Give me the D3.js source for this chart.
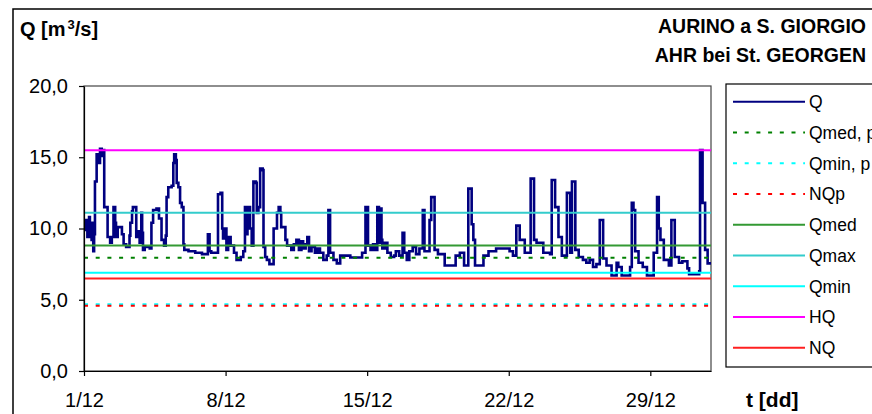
<!DOCTYPE html>
<html>
<head>
<meta charset="utf-8">
<script src="https://cdn.jsdelivr.net/npm/d3@7"></script>
<style>
  body { margin: 0; background: #fff; }
  text { font-family: Arial, "Liberation Sans", sans-serif; }
</style>
</head>
<body>
<div id="chart"></div>
<script>
// hourly discharge, December (hour from 1/12 00:00, value in m3/s), step changes
const qHours = [0, 2, 4, 6, 7, 9, 10, 11, 12, 13, 15, 18, 19, 21, 23, 24, 28, 31, 33, 35, 37, 38, 40, 45, 47, 50, 54, 55, 57, 58,
  62, 64, 66, 68, 69, 70, 72, 78, 80, 82, 86, 89, 92, 95, 97, 98, 100, 104, 106, 107, 109, 110, 112, 114, 116, 118, 119, 124, 132, 140,
  147, 149, 151, 159, 162, 164, 165, 167, 169, 171, 174, 178, 181, 186, 189, 191, 193, 194, 197, 199, 201, 204, 205, 207, 209, 212, 213, 215, 217, 220,
  225, 229, 231, 233, 234, 239, 241, 246, 249, 252, 255, 258, 260, 263, 265, 267, 270, 274, 277, 280, 284, 288, 290, 292, 296, 300, 304, 316, 330, 334,
  337, 340, 343, 346, 348, 350, 351, 353, 354, 357, 360, 364, 368, 370, 374, 378, 380, 383, 386, 390, 394, 398, 402, 404, 410, 412, 416, 420, 428, 441,
  446, 451, 456, 460, 462, 464, 474, 480, 489, 505, 509, 513, 517, 523, 530, 534, 537, 545, 553, 555, 559, 563, 567, 573, 577, 579, 583, 587, 592, 596,
  600, 604, 608, 612, 616, 620, 626, 632, 634, 638, 648, 650, 652, 654, 658, 663, 668, 676, 680, 682, 684, 688, 694, 697, 701, 706, 710, 716, 718, 730,
  731, 734, 737, 740, 744];
const qValues = [9.9, 10.6, 9.4, 10.8, 9.8, 9.2, 10.4, 8.4, 9.6, 13.3, 15.2, 14.6, 15.6, 15.1, 15.5, 11.5, 9.4, 9.0, 9.4, 11.5, 10.4, 9.4, 10.1, 9.6, 8.9, 8.7, 9.5, 10.4, 11.2, 11.5,
  9.4, 9.8, 9.0, 11.1, 9.7, 8.5, 8.7, 8.6, 10.4, 11.3, 11.4, 10.7, 9.2, 8.8, 9.5, 12.2, 12.9, 13.0, 14.6, 15.2, 14.8, 13.2, 12.9, 11.8, 11.5, 8.9, 8.5, 8.4, 8.3, 8.2,
  9.6, 8.4, 8.3, 12.4, 12.5, 10.0, 9.3, 10.0, 8.5, 9.4, 8.8, 8.3, 7.8, 8.0, 8.4, 11.5, 9.6, 11.5, 10.0, 8.8, 13.3, 13.2, 11.1, 11.5, 14.2, 14.1, 8.7, 8.0, 7.8, 7.5,
  10.0, 11.1, 11.5, 11.1, 10.1, 9.2, 8.8, 8.5, 8.9, 9.2, 8.5, 9.1, 8.6, 8.9, 9.4, 8.4, 8.7, 8.3, 8.6, 8.3, 7.8, 8.1, 11.3, 8.3, 7.8, 7.55, 8.1, 7.97, 8.3, 11.5,
  8.8, 8.5, 8.9, 8.5, 11.5, 9.0, 11.4, 9.2, 8.6, 9.0, 8.3, 8.0, 8.1, 8.4, 8.1, 9.7, 8.3, 7.8, 8.4, 8.7, 8.2, 8.6, 11.3, 8.4, 10.6, 12.2, 8.5, 8.2, 7.4, 8.1,
  8.3, 7.4, 12.8, 10.3, 9.2, 7.4, 8.1, 8.4, 8.6, 8.4, 8.1, 10.2, 9.2, 8.3, 13.5, 9.2, 9.0, 8.3, 8.2, 13.4, 11.5, 9.4, 8.1, 12.5, 8.3, 13.3, 8.5, 8.0, 7.8, 7.6,
  7.8, 7.3, 7.5, 10.6, 7.9, 7.4, 6.7, 7.6, 7.3, 6.7, 7.3, 11.8, 11.3, 8.4, 7.6, 7.3, 6.7, 8.3, 12.2, 10.0, 9.2, 7.8, 7.4, 10.6, 8.0, 7.6, 7.7, 7.2, 6.8, 7.0,
  15.5, 11.8, 8.5, 7.55, 7.55];

// reference levels
const refNames = ["Qmed, p", "Qmin, p", "NQp", "Qmed", "Qmax", "Qmin", "HQ", "NQ"];
const refValues = [7.95, 4.68, 4.58, 8.8, 11.1, 6.9, 15.5, 6.5];
const refColors = ["#008000", "#00ffff", "#ff0000", "#339933", "#33cccc", "#00ffff", "#ff00ff", "#ff2020"];
const refDashed = [true, true, true, false, false, false, false, false];

const yTicks = [0, 5, 10, 15, 20];
const xTickHours = [0, 168, 336, 504, 672];
const xTickLabels = ["1/12", "8/12", "15/12", "22/12", "29/12"];

const width = 872, height = 414;
const plotL = 84, plotR = 711, plotT = 86, plotB = 371;

const svg = d3.select("#chart").append("svg")
    .attr("width", width)
    .attr("height", height);

svg.append("rect")
    .attr("width", width).attr("height", height)
    .attr("fill", "#fff");

// outer chart frame
svg.append("rect")
    .attr("x", 13).attr("y", 9)
    .attr("width", 1000).attr("height", 1000)
    .attr("fill", "none")
    .attr("stroke", "#000")
    .attr("stroke-width", 1.5);

const x = d3.scaleLinear().domain([0, 744]).range([plotL, plotR]);
const y = d3.scaleLinear().domain([0, 20]).range([plotB, plotT]);

// plot area border
svg.append("rect")
    .attr("x", plotL).attr("y", plotT)
    .attr("width", plotR - plotL).attr("height", plotB - plotT)
    .attr("fill", "none")
    .attr("stroke", "#444")
    .attr("stroke-width", 1.2);

const qData = qHours.map((h, i) => ({ h: h, v: qValues[i] }));

const line = d3.line()
    .x(d => x(d.h))
    .y(d => y(d.v))
    .curve(d3.curveStepAfter);

svg.append("path")
    .datum(qData)
    .attr("fill", "none")
    .attr("stroke", "#000080")
    .attr("stroke-width", 2.6)
    .attr("d", line);

// horizontal reference lines
svg.append("g")
    .selectAll("line")
    .data(refValues)
    .enter().append("line")
    .attr("x1", x(0))
    .attr("x2", x(744))
    .attr("y1", d => y(d))
    .attr("y2", d => y(d))
    .attr("stroke", (d, i) => refColors[i])
    .attr("stroke-width", 2)
    .attr("stroke-dasharray", (d, i) => refDashed[i] ? "4,7.7" : null);

// axes
const yAxis = svg.append("g")
    .attr("transform", `translate(${plotL},0)`)
    .call(d3.axisLeft(y)
        .tickValues(yTicks)
        .tickFormat(d => d.toFixed(1).replace(".", ","))
        .tickSizeInner(5)
        .tickSizeOuter(0)
        .tickPadding(11));

const xAxis = svg.append("g")
    .attr("transform", `translate(0,${plotB})`)
    .call(d3.axisBottom(x)
        .tickValues(xTickHours)
        .tickFormat((d, i) => xTickLabels[i])
        .tickSizeInner(5)
        .tickSizeOuter(0)
        .tickPadding(17));

[yAxis, xAxis].forEach(g => {
    g.select(".domain").attr("stroke", "#000").attr("stroke-width", 1.2);
    g.selectAll(".tick line").attr("stroke", "#000").attr("stroke-width", 1.2);
    g.selectAll("text")
        .attr("fill", "#000")
        .style("font-size", "20px")
        .style("font-family", "Arial, 'Liberation Sans', sans-serif");
});

// titles
const yTitle = svg.append("text")
    .attr("x", 20).attr("y", 36)
    .style("font-size", "20px")
    .style("font-weight", "bold");
yTitle.append("tspan").text("Q [m");
yTitle.append("tspan").attr("dx", 2).attr("dy", -7).style("font-size", "13px").text("3");
yTitle.append("tspan").attr("dy", 7).text("/s]");

svg.append("text")
    .attr("x", 866).attr("y", 33)
    .attr("text-anchor", "end")
    .style("font-size", "19.5px")
    .style("font-weight", "bold")
    .text("AURINO a S. GIORGIO");

svg.append("text")
    .attr("x", 866).attr("y", 62)
    .attr("text-anchor", "end")
    .style("font-size", "19.5px")
    .style("font-weight", "bold")
    .text("AHR bei St. GEORGEN");

svg.append("text")
    .attr("x", 746).attr("y", 407)
    .style("font-size", "21px")
    .style("font-weight", "bold")
    .text("t [dd]");

// legend
const legendNames = ["Q"].concat(refNames);
const legendColors = ["#000080"].concat(refColors);
const legendDashed = [false].concat(refDashed);

svg.append("rect")
    .attr("x", 726).attr("y", 84)
    .attr("width", 200).attr("height", 283)
    .attr("fill", "#fff")
    .attr("stroke", "#000")
    .attr("stroke-width", 1.2);

const item = svg.append("g")
    .selectAll("g")
    .data(legendNames)
    .enter().append("g")
    .attr("transform", (d, i) => `translate(0,${101.7 + i * 30.75})`);

item.append("line")
    .attr("x1", 733).attr("x2", 805)
    .attr("stroke", (d, i) => legendColors[i])
    .attr("stroke-width", 2)
    .attr("stroke-dasharray", (d, i) => legendDashed[i] ? "4,7.7" : null);

item.append("text")
    .attr("x", 809)
    .attr("dy", "0.36em")
    .style("font-size", "17.5px")
    .text(d => d);
</script>
</body>
</html>
